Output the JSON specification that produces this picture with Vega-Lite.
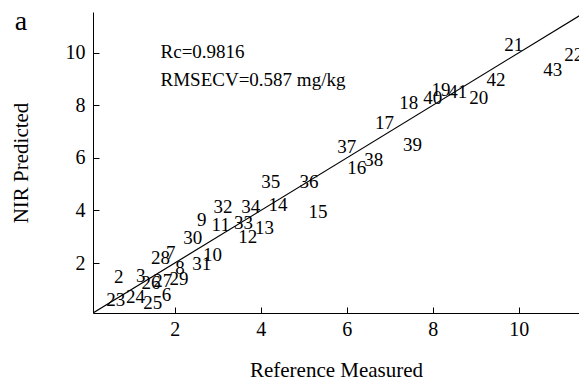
{
  "$schema": "https://vega.github.io/schema/vega-lite/v6.json",
  "autosize": "none",
  "width": 486,
  "height": 301,
  "padding": {"left": 93, "top": 12, "right": 0, "bottom": 68},
  "background": "white",
  "config": {
    "view": {"stroke": null},
    "font": "Liberation Serif",
    "axis": {"grid": false, "domainColor": "black", "tickColor": "black", "labelColor": "black", "titleColor": "black", "labelFont": "Liberation Serif", "titleFont": "Liberation Serif", "labelFontSize": 20, "titleFontSize": 21, "titleFontWeight": "normal", "domainWidth": 1, "tickWidth": 1}
  },
  "datasets": {
    "pts": [
      {"id": "2", "ref": 0.70, "pred": 1.48},
      {"id": "3", "ref": 1.21, "pred": 1.52},
      {"id": "23", "ref": 0.63, "pred": 0.61},
      {"id": "24", "ref": 1.09, "pred": 0.72},
      {"id": "25", "ref": 1.49, "pred": 0.49},
      {"id": "6", "ref": 1.81, "pred": 0.80},
      {"id": "26", "ref": 1.45, "pred": 1.25},
      {"id": "27", "ref": 1.72, "pred": 1.33},
      {"id": "29", "ref": 2.10, "pred": 1.38},
      {"id": "8", "ref": 2.12, "pred": 1.83},
      {"id": "31", "ref": 2.63, "pred": 1.98},
      {"id": "10", "ref": 2.88, "pred": 2.32},
      {"id": "28", "ref": 1.67, "pred": 2.21},
      {"id": "7", "ref": 1.91, "pred": 2.40},
      {"id": "30", "ref": 2.42, "pred": 2.97},
      {"id": "9", "ref": 2.63, "pred": 3.65},
      {"id": "32", "ref": 3.12, "pred": 4.14},
      {"id": "11", "ref": 3.07, "pred": 3.46},
      {"id": "33", "ref": 3.60, "pred": 3.54},
      {"id": "12", "ref": 3.70, "pred": 3.00},
      {"id": "13", "ref": 4.09, "pred": 3.35},
      {"id": "34", "ref": 3.77, "pred": 4.14},
      {"id": "14", "ref": 4.40, "pred": 4.22},
      {"id": "35", "ref": 4.23, "pred": 5.10},
      {"id": "36", "ref": 5.12, "pred": 5.10},
      {"id": "15", "ref": 5.33, "pred": 3.95},
      {"id": "37", "ref": 6.00, "pred": 6.43},
      {"id": "16", "ref": 6.23, "pred": 5.63},
      {"id": "38", "ref": 6.63, "pred": 5.93},
      {"id": "17", "ref": 6.88, "pred": 7.34},
      {"id": "39", "ref": 7.53, "pred": 6.50},
      {"id": "18", "ref": 7.44, "pred": 8.10},
      {"id": "40", "ref": 8.00, "pred": 8.29},
      {"id": "19", "ref": 8.19, "pred": 8.59},
      {"id": "41", "ref": 8.58, "pred": 8.52},
      {"id": "20", "ref": 9.07, "pred": 8.29},
      {"id": "42", "ref": 9.47, "pred": 8.97},
      {"id": "21", "ref": 9.88, "pred": 10.30},
      {"id": "43", "ref": 10.79, "pred": 9.35},
      {"id": "22", "ref": 11.28, "pred": 9.92}
    ],
    "fit": [
      {"ref": 0.1, "pred": 0.1},
      {"ref": 11.6, "pred": 11.6}
    ],
    "notes": [
      {"txt": "Rc=0.9816", "ref": 1.67, "pred": 10.04},
      {"txt": "RMSECV=0.587 mg/kg", "ref": 1.67, "pred": 8.97}
    ],
    "panel": [
      {"txt": "a", "ref": -1.72, "pred": 10.87}
    ]
  },
  "encoding": {
    "x": {"field": "ref", "type": "quantitative", "scale": {"domain": [0.1, 11.4], "nice": false, "zero": false}, "axis": {"title": "Reference Measured", "values": [2, 4, 6, 8, 10], "tickSize": -6, "labelPadding": 12, "titlePadding": 20, "orient": "bottom"}},
    "y": {"field": "pred", "type": "quantitative", "scale": {"domain": [0.1, 11.55], "nice": false, "zero": false}, "axis": {"title": "NIR Predicted", "values": [2, 4, 6, 8, 10], "tickSize": -6, "labelPadding": 14, "titlePadding": 34, "orient": "left"}}
  },
  "layer": [
    {
      "data": {"name": "fit"},
      "mark": {"type": "line", "color": "black", "strokeWidth": 1.2, "clip": true}
    },
    {
      "data": {"name": "pts"},
      "mark": {"type": "text", "font": "Liberation Serif", "fontSize": 19, "color": "black", "align": "center", "baseline": "middle"},
      "encoding": {"text": {"field": "id"}}
    },
    {
      "data": {"name": "notes"},
      "mark": {"type": "text", "font": "Liberation Serif", "fontSize": 19, "color": "black", "align": "left", "baseline": "middle"},
      "encoding": {"text": {"field": "txt"}}
    },
    {
      "data": {"name": "panel"},
      "mark": {"type": "text", "font": "Liberation Serif", "fontSize": 28, "color": "black", "align": "left", "baseline": "alphabetic", "clip": false},
      "encoding": {"text": {"field": "txt"}}
    }
  ]
}
